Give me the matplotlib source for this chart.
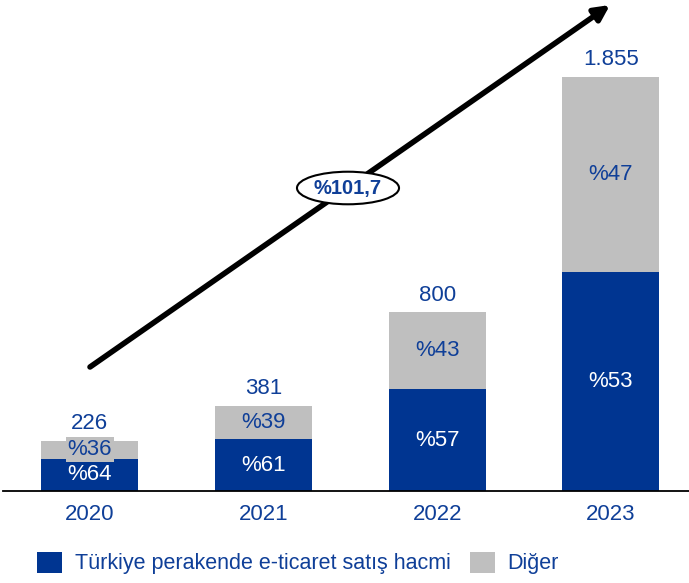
import matplotlib.pyplot as plt
import numpy as np

plt.rcParams['font.family'] = ['Liberation Sans', 'DejaVu Sans']

years = ["2020", "2021", "2022", "2023"]
totals = [226, 381, 800, 1855]
total_labels = ["226", "381", "800", "1.855"]
share_retail = [64, 61, 57, 53]
share_other = [36, 39, 43, 47]
growth_label = "%101,7"
legend_labels = ["Türkiye perakende e-ticaret satış hacmi", "Diğer"]

BLUE = "#003591"
GRAY = "#BFBFBF"
TEXT = "#0F3F98"

fig = plt.figure(figsize=(6.89, 5.83), dpi=100)
ax = fig.add_axes([3 / 689, 92 / 583, 686 / 689, 491 / 583])

x = np.arange(len(years))
totals_arr = np.array(totals, dtype=float)
retail = totals_arr * np.array(share_retail) / 100
other = totals_arr - retail

w = 0.56
b1 = ax.bar(x, retail, width=w, color=BLUE, label=legend_labels[0], zorder=2)
b2 = ax.bar(x, other, width=w, bottom=retail, color=GRAY, label=legend_labels[1], zorder=2)

for i in range(len(years)):
    ax.text(x[i], retail[i] / 2, f"%{share_retail[i]}", ha="center", va="center",
            color="white", fontsize=16, zorder=3)
    ax.text(x[i], retail[i] + other[i] / 2, f"%{share_other[i]}", ha="center", va="center",
            color=TEXT, fontsize=16, zorder=3,
            bbox=dict(boxstyle="square,pad=0.08", facecolor=GRAY, edgecolor="none"))
    ax.text(x[i], totals_arr[i] + 30, total_labels[i], ha="center", va="bottom",
            color=TEXT, fontsize=16, zorder=3)

ax.set_xlim(-0.5, 3.45)
ax.set_ylim(0, 2200)
ax.set_xticks(x)
ax.set_xticklabels(years, color=TEXT, fontsize=16)
ax.tick_params(axis="x", length=0, pad=9)
ax.set_yticks([])
for s in ["top", "right", "left"]:
    ax.spines[s].set_visible(False)
ax.spines["bottom"].set_linewidth(1.3)
ax.spines["bottom"].set_zorder(4)

# growth arrow across the bars
ax.annotate("", xy=(610, 578), xycoords="figure pixels",
            xytext=(90, 216), textcoords="figure pixels",
            arrowprops=dict(arrowstyle="-|>,head_length=0.9,head_width=0.45",
                            color="black", lw=4, shrinkA=0, shrinkB=0),
            annotation_clip=False)
fig.text(348 / 689, 1 - 188 / 583, growth_label, ha="center", va="center",
         fontsize=14.5, fontweight="bold", color=TEXT,
         bbox=dict(boxstyle="ellipse,pad=0.1", facecolor="white", edgecolor="black", lw=1.5))

fig.legend(handles=[b1, b2], labels=legend_labels, loc="center left",
           bbox_to_anchor=(37 / 689, 1 - 563 / 583), ncol=2, frameon=False,
           fontsize=15.5, handlelength=1.15, handleheight=1.15, handletextpad=0.6,
           columnspacing=0.9, labelcolor=TEXT, borderpad=0, borderaxespad=0)

fig.savefig("out.png", dpi=100)
